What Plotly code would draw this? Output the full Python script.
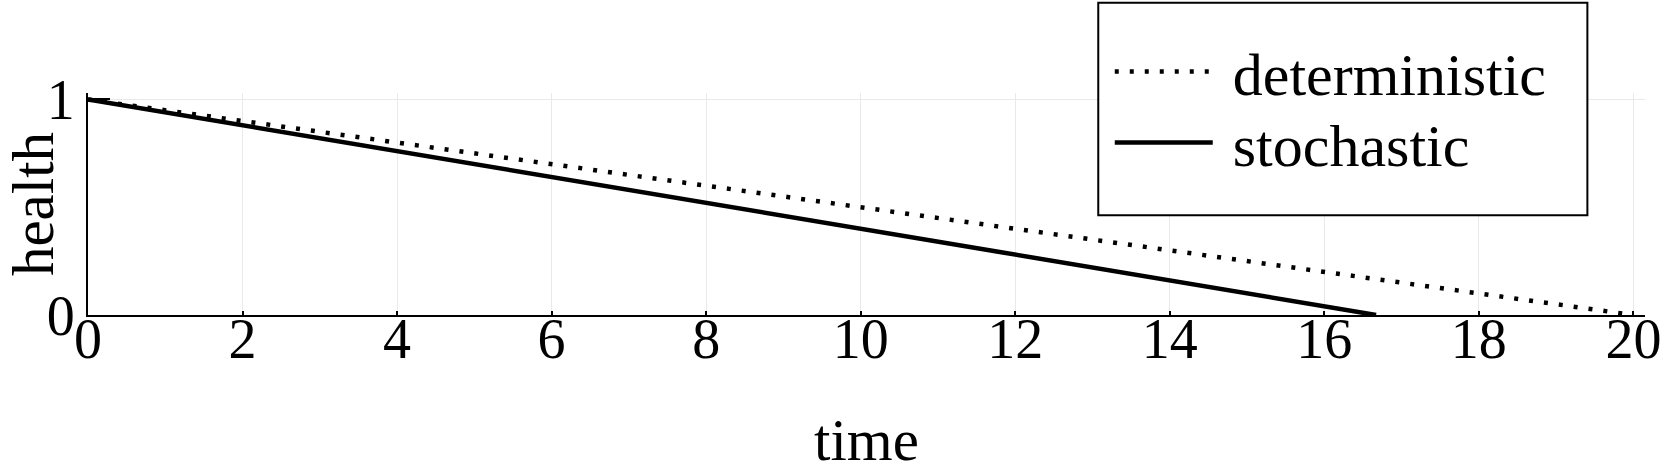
import plotly.graph_objects as go

# data
det_time = [0, 20]
det_health = [1, 0]
sto_time = [0, 16.67]
sto_health = [1, 0]
x_ticks = [0, 2, 4, 6, 8, 10, 12, 14, 16, 18, 20]
y_ticks = [0, 1]

FONT = "Liberation Serif, Times New Roman, serif"
W_PLOT = 1667 - 88 - 22.4
H_PLOT = 473 - 92.5 - 158

fig = go.Figure()
fig.add_trace(go.Scatter(x=det_time, y=det_health, mode="lines", name="\u00a0deterministic",
                         legend="legend",
                         line=dict(color="black", width=4.5, dash="4px,11px")))
fig.add_trace(go.Scatter(x=sto_time, y=sto_health, mode="lines", name="\u00a0stochastic",
                         legend="legend2",
                         line=dict(color="black", width=4.5)))

leg_common = dict(xanchor="left", yanchor="middle", font=dict(size=60, family=FONT),
                  bgcolor="rgba(0,0,0,0)", borderwidth=0, itemwidth=98)
fig.update_layout(
    width=1667, height=473,
    margin=dict(l=88, r=22.4, t=92.5, b=158, autoexpand=False),
    paper_bgcolor="white", plot_bgcolor="white",
    font=dict(family=FONT, color="black"),
    showlegend=True,
    legend=dict(x=(1109.5 - 88) / W_PLOT, y=(315 - 71) / H_PLOT, **leg_common),
    legend2=dict(x=(1109.5 - 88) / W_PLOT, y=(315 - 142) / H_PLOT, **leg_common),
    shapes=[dict(type="rect", xref="paper", yref="paper",
                 x0=(1098 - 88) / W_PLOT, x1=(1587 - 88) / W_PLOT,
                 y0=(315 - 215) / H_PLOT, y1=(315 - 2) / H_PLOT,
                 line=dict(color="black", width=2), fillcolor="white", layer="above")],
)
fig.update_xaxes(range=[0, 20.15], tickvals=x_ticks, ticktext=[str(v) for v in x_ticks],
                 showline=True, linecolor="black", linewidth=2,
                 showgrid=True, gridcolor="#e9e9e9", gridwidth=1, zeroline=False,
                 ticks="inside", ticklen=4, tickwidth=2, tickcolor="black",
                 tickfont=dict(size=56, family=FONT), ticklabelstandoff=-26,
                 title=dict(text="time", font=dict(size=59, family=FONT), standoff=56))
fig.update_yaxes(range=[0, 1.03], tickvals=y_ticks, ticktext=[str(v) for v in y_ticks],
                 showline=True, linecolor="black", linewidth=2,
                 showgrid=True, gridcolor="#e9e9e9", gridwidth=1, zeroline=False,
                 ticks="inside", ticklen=22, tickwidth=2, tickcolor="black",
                 tickfont=dict(size=56, family=FONT), ticklabelstandoff=0,
                 title=dict(text="health", font=dict(size=59, family=FONT), standoff=0))

fig.write_html("out.html")
